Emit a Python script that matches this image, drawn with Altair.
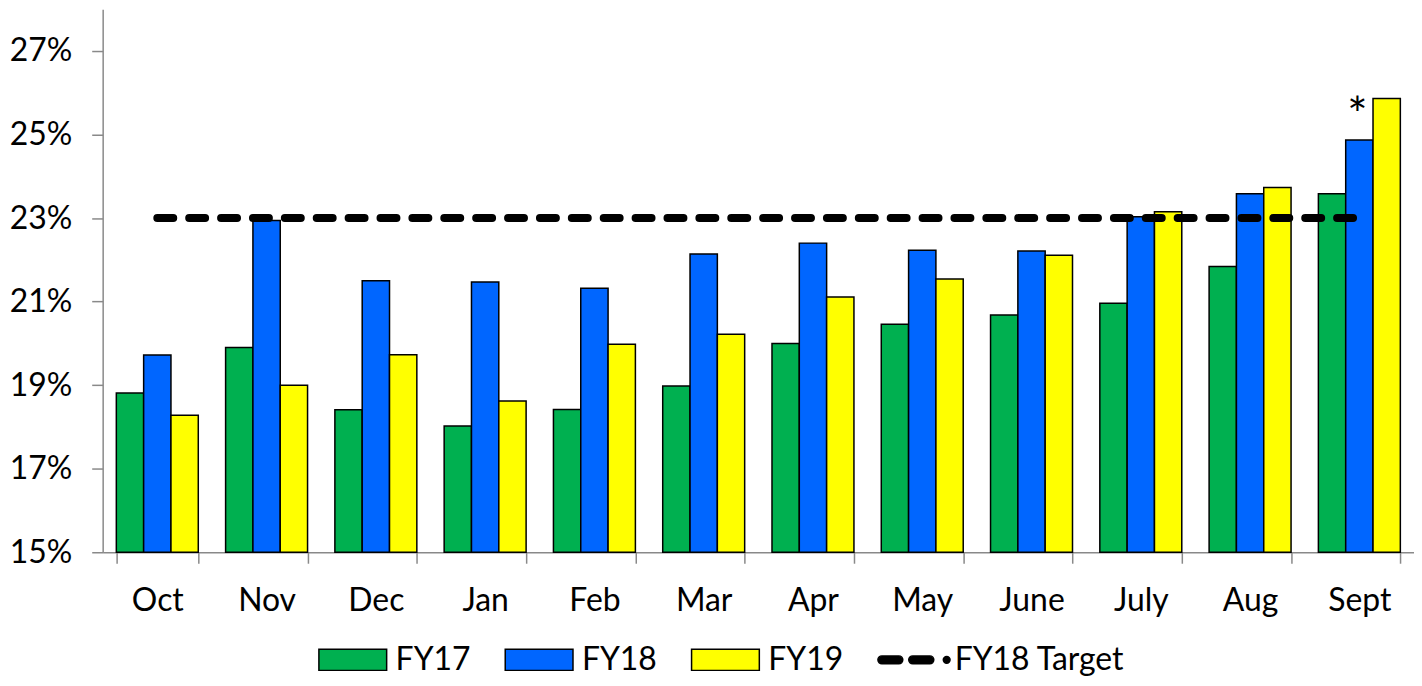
import altair as alt
import pandas as pd

# ---- data ----
months = ["Oct", "Nov", "Dec", "Jan", "Feb", "Mar", "Apr", "May", "June", "July", "Aug", "Sept"]
series = ["FY17", "FY18", "FY19"]
fy17 = [18.81, 19.90, 18.41, 18.02, 18.42, 18.98, 20.00, 20.46, 20.68, 20.96, 21.84, 23.58]
fy18 = [19.72, 22.94, 21.50, 21.47, 21.32, 22.14, 22.40, 22.23, 22.21, 23.03, 23.58, 24.87]
fy19 = [18.28, 19.00, 19.73, 18.62, 19.98, 20.22, 21.11, 21.54, 22.11, 23.15, 23.73, 25.86]
target_label = "FY18 Target"
target_value = 23
y_ticks = [15, 17, 19, 21, 23, 25, 27]
annot_month = "Sept"
annot_series = "FY18"
annot_text = "*"

# ---- tables ----
rows = []
for s, vals in zip(series, [fy17, fy18, fy19]):
    for m, v in zip(months, vals):
        rows.append({"month": m, "series": s, "value": v})
bars_df = pd.DataFrame(rows)
target_df = pd.DataFrame({"month": months, "value": [target_value] * len(months)})
annot_df = pd.DataFrame({"month": [annot_month], "series": [annot_series],
                         "value": [fy18[months.index(annot_month)]], "text": [annot_text]})
legend_domain = series + [target_label]

FONT = "Lato"
FS = 32
GREY = "#898989"
colors = ["#00B050", "#0066FF", "#FFFF00", "#000000"]
rect_path = "M-1,-0.31 L1,-0.31 L1,0.31 L-1,0.31 Z"
r = 0.118
dash_path = (
    f"M-0.882,-{r} L-0.383,-{r} A{r},{r} 0 0 1 -0.383,{r} L-0.882,{r} A{r},{r} 0 0 1 -0.882,-{r} Z "
    f"M0.028,-{r} L0.532,-{r} A{r},{r} 0 0 1 0.532,{r} L0.028,{r} A{r},{r} 0 0 1 0.028,-{r} Z "
    "M0.93,0 A0.1,0.1 0 1 1 1.13,0 A0.1,0.1 0 1 1 0.93,0 Z"
)

x_enc = alt.X(
    "month:N", sort=months,
    scale=alt.Scale(paddingInner=0.25, paddingOuter=0.125),
    axis=alt.Axis(title=None, labelFont=FONT, labelFontSize=FS, labelColor="black",
                  labelPadding=22, tickSize=11, tickBand="extent", labelAngle=0,
                  domainColor=GREY, tickColor=GREY, domainWidth=1.5, tickWidth=1.5, grid=False),
)
y_enc = alt.Y(
    "value:Q",
    scale=alt.Scale(domain=[15, 28], nice=False, zero=False),
    axis=alt.Axis(title=None, values=y_ticks, labelExpr="datum.value + '%'",
                  labelFont=FONT, labelFontSize=FS, labelColor="black", labelPadding=20,
                  tickSize=11, domainColor=GREY, tickColor=GREY, domainWidth=1.5,
                  tickWidth=1.5, grid=False),
)
xoff_enc = alt.XOffset("series:N", sort=series, scale=alt.Scale(domain=series, paddingInner=0, paddingOuter=0))
color_scale = alt.Scale(domain=legend_domain, range=colors)

shape_expr = f"datum.value === '{target_label}' ? '{dash_path}' : '{rect_path}'"
leg = alt.Legend(
    title=None, orient="none", legendX=216, legendY=618, direction="horizontal", columns=4,
    labelFont=FONT, labelFontSize=FS, labelColor="black", labelOffset=8, labelLimit=400,
    symbolSize=4624, columnPadding=31, symbolStrokeColor="black", symbolStrokeWidth=1.5,
    symbolOpacity=1, symbolType=alt.ExprRef(expr=shape_expr),
)

bars = alt.Chart(bars_df).mark_bar(stroke="black", strokeWidth=1.5).encode(
    x=x_enc, xOffset=xoff_enc, y=y_enc, y2=alt.datum(15),
    color=alt.Color("series:N", scale=color_scale, legend=leg),
)

line = alt.Chart(target_df).mark_line(
    color="black", strokeWidth=8, strokeDash=[16, 16], strokeCap="round"
).encode(x=x_enc, y=y_enc)

annot = alt.Chart(annot_df).mark_text(
    font=FONT, fontSize=48, color="black", baseline="alphabetic", dy=-8, dx=-2
).encode(x=x_enc, xOffset=xoff_enc, y=y_enc, text="text:N")

chart = alt.layer(bars, line, annot).properties(
    width=1316, height=545,
    padding={"left": 95, "top": 0, "right": 0, "bottom": 125},
    autosize=alt.AutoSizeParams(type="none"),
    background="white",
).configure_view(stroke=None)

chart.save("out.html", embed_options={"renderer": "svg", "actions": False})
